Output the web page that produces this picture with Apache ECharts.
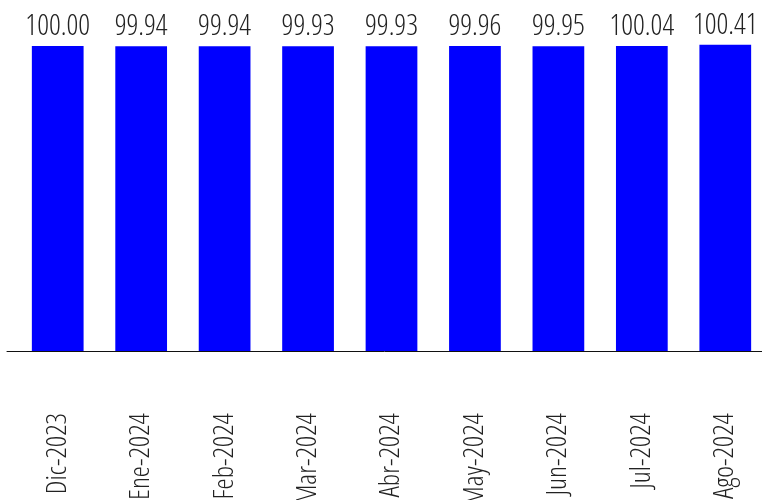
<!DOCTYPE html>
<html>
<head>
<meta charset="utf-8">
<script src="https://cdn.jsdelivr.net/npm/echarts@6/dist/echarts.min.js"></script>
<style>html,body{margin:0;padding:0;background:#fff}#c{width:762px;height:500px}</style>
</head>
<body>
<div id="c"></div>
<script>
const categories = ['Dic-2023','Ene-2024','Feb-2024','Mar-2024','Abr-2024','May-2024','Jun-2024','Jul-2024','Ago-2024'];
const values = [100.00, 99.94, 99.94, 99.93, 99.93, 99.96, 99.95, 100.04, 100.41];
const FONT = "'Open Sans', 'DejaVu Sans Condensed', sans-serif";
const WEIGHT = '300 condensed';
const chart = echarts.init(document.getElementById('c'), null, {renderer:'canvas'});
chart.setOption({
  animation: false,
  grid: [
    {left: 16, right: -5, top: 15.5, bottom: 149, containLabel: false, outerBoundsMode: 'none'},
    {left: 7, right: 0, top: 15.5, bottom: 149, containLabel: false, outerBoundsMode: 'none'}
  ],
  xAxis: [{
    type: 'category', data: categories, gridIndex: 0,
    axisLine: {show: false},
    axisTick: {show: false},
    axisLabel: {rotate: 90, margin: 62, fontFamily: FONT, fontWeight: WEIGHT, fontSize: 28, color: '#222', interval: 0}
  }, {
    type: 'category', data: categories, gridIndex: 1,
    axisLine: {show: true, lineStyle: {color: '#111', width: 1}},
    axisTick: {show: false}, axisLabel: {show: false}
  }],
  yAxis: [
    {type: 'value', min: 0, max: 110, show: false, splitLine: {show: false}, gridIndex: 0},
    {type: 'value', min: 0, max: 110, show: false, splitLine: {show: false}, gridIndex: 1}
  ],
  series: [{
    type: 'bar', data: values, barCategoryGap: '38%', xAxisIndex: 0, yAxisIndex: 0, z: 3,
    itemStyle: {color: '#0000FF'},
    label: {show: true, position: 'top', distance: 5, fontFamily: FONT, fontWeight: WEIGHT, fontSize: 29, color: '#222',
      formatter: p => p.value.toFixed(2)}
  }]
});
</script>
</body>
</html>
